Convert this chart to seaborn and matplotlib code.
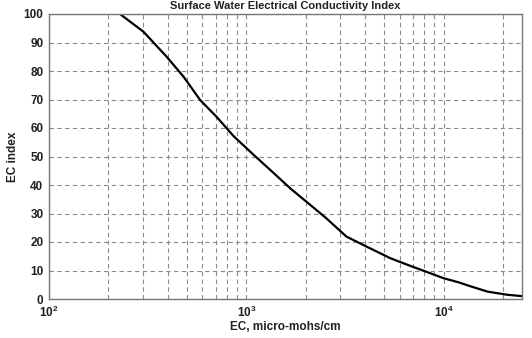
import matplotlib
matplotlib.use("Agg")
import matplotlib.pyplot as plt
import seaborn as sns
import pandas as pd
from matplotlib.ticker import LogLocator, FixedLocator

ec_values = [229, 301, 395, 481, 584, 710, 861, 1089, 1323, 1673, 2113, 2548, 3220,
             4070, 5380, 6800, 8600, 10000, 12000, 13500, 16700, 21000, 25000]
ec_index = [100, 93.8, 85.0, 78.0, 69.8, 63.8, 57.2, 50.6, 45.3, 38.8, 33.0, 28.3, 21.9,
            18.4, 14.3, 11.6, 9.0, 7.3, 5.8, 4.6, 2.6, 1.5, 1.0]
y_ticks = list(range(0, 101, 10))
title = "Surface Water Electrical Conductivity Index"
xlabel = "EC, micro-mohs/cm"
ylabel = "EC index"

df = pd.DataFrame({"EC": ec_values, "Index": ec_index})

sns.set_style("white")
plt.rcParams['font.family'] = ['Liberation Sans', 'DejaVu Sans']

fig = plt.figure(figsize=(5.32, 3.38), dpi=100)
ax = fig.add_axes([49/532, 39/338, (522-49)/532, (299-14)/338])

sns.lineplot(data=df, x="EC", y="Index", ax=ax, color="black", linewidth=1.6)
ax.set_xscale("log")
ax.set_xlim(100, 25000)
ax.set_ylim(0, 100)
ax.yaxis.set_major_locator(FixedLocator(y_ticks))
ax.xaxis.set_major_locator(LogLocator(base=10))
ax.xaxis.set_minor_locator(LogLocator(base=10, subs=range(2, 10)))

grid_kw = dict(color="#8a8a8a", linestyle=(0, (4, 3)), linewidth=0.8)
ax.grid(True, which="major", axis="both", **grid_kw)
ax.grid(True, which="minor", axis="x", **grid_kw)
ax.set_axisbelow(True)

for s in ax.spines.values():
    s.set_color("#777777")
    s.set_linewidth(1.0)

ax.tick_params(axis="both", which="both", direction="in", length=0, labelsize=8.5)
ax.tick_params(axis="x", pad=4)
ax.tick_params(axis="y", pad=4)
for lbl in ax.get_yticklabels() + ax.get_xticklabels():
    lbl.set_fontweight("bold")
    lbl.set_color("#222222")

ax.set_xlabel(xlabel, fontsize=8.5, fontweight="bold", color="#222222", labelpad=1)
ax.set_ylabel(ylabel, fontsize=8.5, fontweight="bold", color="#222222", labelpad=3)
fig.text(0.5 * (49 + 522) / 532, 0.998, title, ha="center", va="top",
         fontsize=8, fontweight="bold", color="#222222")

fig.savefig("out.png", dpi=100, facecolor="white")
